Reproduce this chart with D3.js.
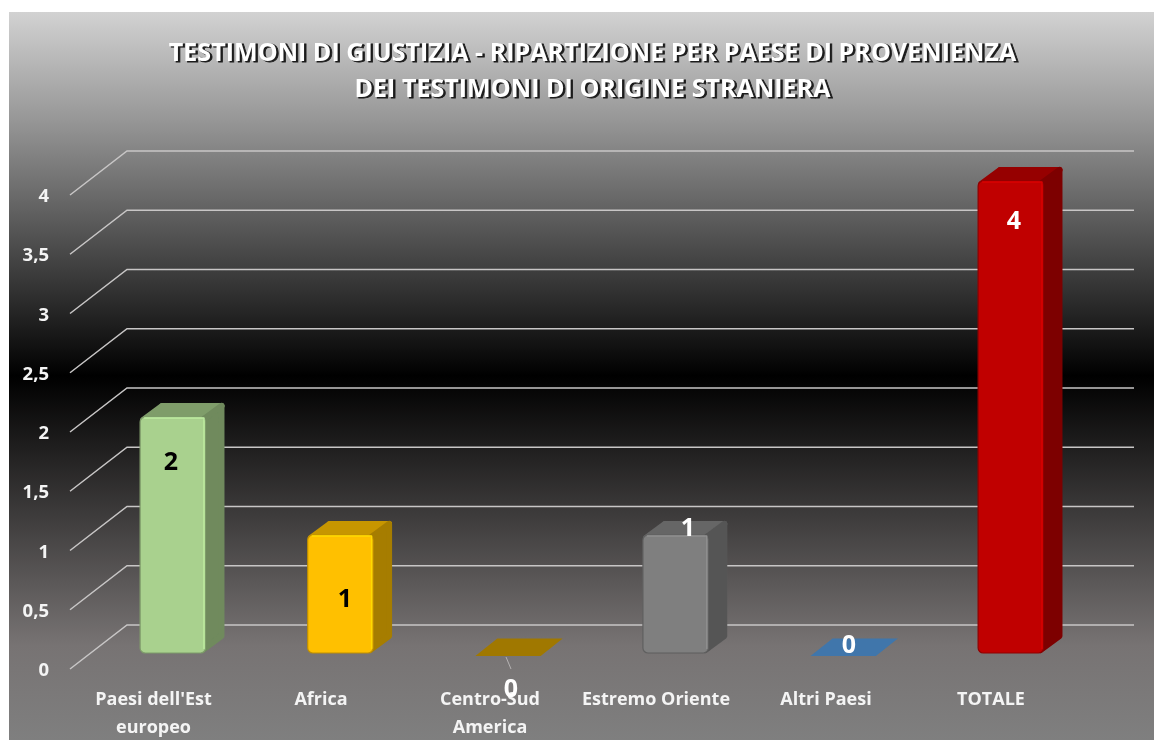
<!DOCTYPE html>
<html><head><meta charset="utf-8">
<script src="https://cdn.jsdelivr.net/npm/d3@7"></script>
<style>html,body{margin:0;padding:0;background:#fff;overflow:hidden}svg{display:block}</style>
</head><body><div id="chart"></div>
<script>
const categories = [["Paesi dell'Est","europeo"],["Africa"],["Centro-Sud","America"],["Estremo Oriente"],["Altri Paesi"],["TOTALE"]];
const values = [2,1,0,1,0,4];
const yTicks = [0,0.5,1,1.5,2,2.5,3,3.5,4];
const tickLabels = ["0","0,5","1","1,5","2","2,5","3","3,5","4"];
const titleLines = ["TESTIMONI DI GIUSTIZIA - RIPARTIZIONE PER PAESE DI PROVENIENZA","DEI TESTIMONI DI ORIGINE STRANIERA"];
const faceColors = ["#a9d18e","#ffc000","#ffc000","#7f7f7f","#5b9bd5","#c00000"];
const sideColors = ["#6f8a5d","#a67d00","#a67d00","#555555","#3c6d9e","#7d0000"];
const topColors  = ["#7f9d6b","#c79600","#a07800","#666666","#3f76ab","#960000"];
const labelColors = ["#000","#000","#fff","#fff","#fff","#fff"];

const W=1154,H=740;
const svg=d3.select("#chart").append("svg").attr("width",W).attr("height",H);
const defs=svg.append("defs");
const g=defs.append("linearGradient").attr("id","bg").attr("x1",0).attr("x2",0).attr("y1",0).attr("y2",1);
[[0,"#d2d2d2"],[0.14,"#9a9a9a"],[0.28,"#5e5e5e"],[0.5,"#000000"],[0.7,"#403e3e"],[0.87,"#777373"],[1,"#7f7f7f"]]
  .forEach(([o,c])=>g.append("stop").attr("offset",o).attr("stop-color",c));
const shadow=defs.append("filter").attr("id","soft").attr("x","-5%").attr("y","-5%").attr("width","110%").attr("height","110%");
shadow.append("feGaussianBlur").attr("stdDeviation",0.55);

svg.append("rect").attr("x",9).attr("y",12).attr("width",1145).attr("height",728).attr("fill","url(#bg)");

const root=svg.append("g").attr("filter","url(#soft)");
// title
const title=root.append("g").attr("font-family","'Open Sans',sans-serif").attr("font-weight",700).attr("font-size",25.1).attr("text-anchor","middle");
titleLines.forEach((t,i)=>{
  const y=62+i*36;
  title.append("text").attr("x",594.5).attr("y",y).attr("fill","#1c1c1c").attr("stroke","#1c1c1c").attr("stroke-width",0.8).text(t);
  title.append("text").attr("x",592.5).attr("y",y-1.5).attr("fill","#fff").text(t);
});

const depth={x:57,y:44};
const yBack=d3.scaleLinear().domain([0,4]).range([625,151]);
const yFront=d3.scaleLinear().domain([0,4]).range([653,181]);
// grid
const grid=root.append("g").attr("stroke","#c8c6c6").attr("stroke-width",1.5).attr("fill","none");
yTicks.forEach(v=>{
  const y=yBack(v);
  grid.append("path").attr("d",`M${127-depth.x},${y+depth.y}L127,${y}L1134,${y}`);
});
// y labels
root.append("g").selectAll("text").data(yTicks).join("text")
  .attr("x",49).attr("y",v=>yBack(v)+depth.y+7).attr("text-anchor","end")
  .attr("font-family","'Open Sans',sans-serif").attr("font-weight",700).attr("font-size",18.5).attr("fill","#f4f4f4")
  .text((v,i)=>tickLabels[i]);

const x=d3.scaleBand().domain(d3.range(categories.length)).range([89,1094.6]).paddingInner(0.61).paddingOuter(0.305);
const bw=x.bandwidth();
const dx=19,dy=14;
const bars=root.append("g");
values.forEach((v,i)=>{
  const l=x(i),r=l+bw,b=yFront(0),t=yFront(v);
  const G=bars.append("g").attr("stroke-linejoin","round");
  if(v===0){
    G.append("path").attr("d",`M${l},${b+3}L${l+22},${b-14.5}L${r+22},${b-14.5}L${r},${b+3}Z`)
      .attr("fill",topColors[i]);
    return;
  }
  const k=3; // corner radius of the box edges
  G.append("path").attr("d",`M${r-2},${t+1}L${l+dx+k},${t-dy+k}L${r+dx-k},${t-dy+k}L${r-2},${t+1}Z`).attr("fill",topColors[i]).attr("stroke",topColors[i]).attr("stroke-width",2*k);
  G.append("path").attr("d",`M${l+k},${t+k}L${l+dx+k},${t-dy+k}L${r+dx-k},${t-dy+k}L${r-k},${t+k}Z`).attr("fill",topColors[i]).attr("stroke",topColors[i]).attr("stroke-width",2*k);
  G.append("path").attr("d",`M${r-k},${t+k}L${r+dx-k},${t-dy+k}L${r+dx-k},${b-dy-k}L${r-k},${b-k}Z`).attr("fill",sideColors[i]).attr("stroke",sideColors[i]).attr("stroke-width",2*k);
  G.append("rect").attr("x",l).attr("y",t).attr("width",bw).attr("height",b-t).attr("rx",5).attr("fill",faceColors[i]).attr("stroke",d3.color(faceColors[i]).darker(0.8)).attr("stroke-width",1.2);
  G.append("path").attr("d",`M${l+4},${t+1}L${r-1.5},${t+1}L${r-1.5},${b-4}`).attr("fill","none").attr("stroke",d3.color(faceColors[i]).brighter(0.35)).attr("stroke-width",1.4);
});
// leader line and data labels
const labelPos=[[171,470],[345,607],[511,697],[688,536],[849,653],[1014,229]];
root.append("path").attr("d","M506,657L511,669").attr("stroke","#b5b2b2").attr("stroke-width",1).attr("fill","none");
// category labels
const cat=root.append("g").attr("font-family","'Open Sans',sans-serif").attr("font-weight",700).attr("font-size",18).attr("fill","#f4f4f4").attr("text-anchor","middle");
const catX=[153.5,321,490,656,826,991];
categories.forEach((c,i)=>c.forEach((t,j)=>cat.append("text").attr("x",catX[i]).attr("y",705+j*27.5).text(t)));
root.append("g").selectAll("text").data(values).join("text")
  .attr("x",(v,i)=>labelPos[i][0]).attr("y",(v,i)=>labelPos[i][1])
  .attr("text-anchor","middle").attr("font-family","'Open Sans',sans-serif").attr("font-weight",700).attr("font-size",25)
  .attr("fill",(v,i)=>labelColors[i]).text(v=>v);
</script></body></html>
